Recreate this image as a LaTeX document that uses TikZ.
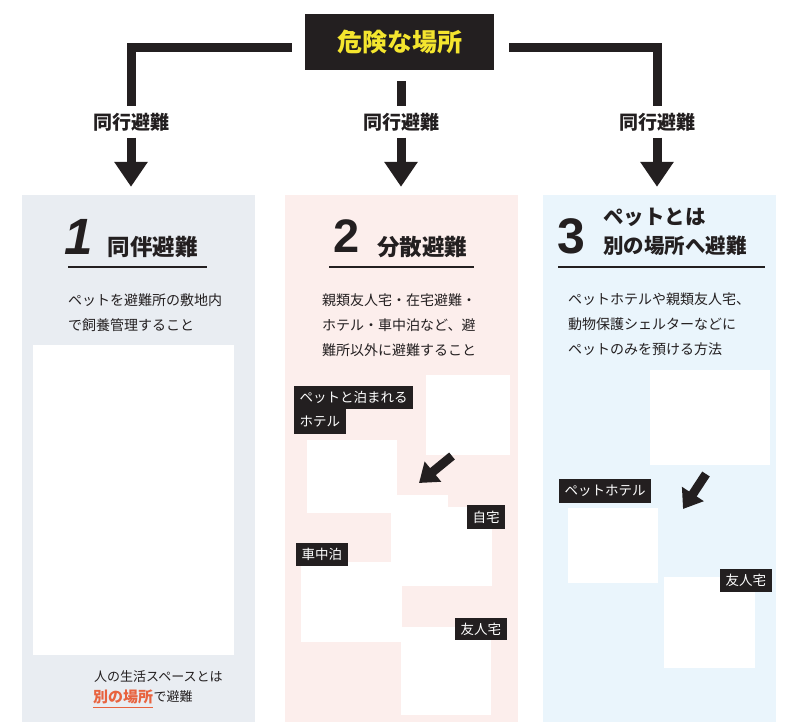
\documentclass[tikz,border=0pt]{standalone}
\usepackage{fontspec}
\setmainfont{Liberation Sans}
\newfontfamily\jp{Noto Sans CJK JP}
\usetikzlibrary{arrows.meta}

\definecolor{ink}{HTML}{231F20}
\definecolor{warn}{HTML}{F4E52E}
\definecolor{shelter}{HTML}{E9EDF2}
\definecolor{spread}{HTML}{FCEEEC}
\definecolor{apart}{HTML}{EAF5FC}
\definecolor{accent}{HTML}{E8633F}

\tikzstyle{danger}=[fill=ink, text=warn, font=\jp\bfseries\fontsize{25}{25}\selectfont, minimum width=189pt, minimum height=56pt, inner sep=0pt]
\tikzstyle{way}=[text=ink, font=\jp\bfseries\fontsize{19}{19}\selectfont, minimum height=31pt, inner sep=0pt]
\tikzstyle{bar}=[draw=ink, line width=9pt]
\tikzstyle{flow}=[bar, -{Triangle[width=32pt, length=25pt]}, shorten >=8pt]
\tikzstyle{pointer}=[draw=ink, line width=9pt, -{Triangle[width=25pt, length=18pt]}]
\tikzstyle{panel}=[minimum width=233pt, minimum height=527pt, inner sep=0pt]
\tikzstyle{photo}=[fill=white]
\tikzstyle{num}=[text=ink, font=\bfseries\fontsize{50}{50}\selectfont, inner sep=0pt]
\tikzstyle{head}=[text=ink, font=\jp\bfseries\fontsize{22.5}{22.5}\selectfont, inner sep=0pt]
\tikzstyle{body}=[text=ink, font=\jp\fontsize{14}{25}\selectfont, align=left, anchor=north west, inner sep=0pt]
\tikzstyle{rule}=[draw=ink, line width=2pt]
\tikzstyle{tag}=[fill=ink, text=white, font=\jp\fontsize{13.5}{13.5}\selectfont, inner xsep=5.5pt, inner ysep=0pt, minimum height=23pt, anchor=north west]

\begin{document}
\begin{tikzpicture}[x=1pt, y=-1pt]
    \useasboundingbox (0,0) rectangle (802,727);
    \node[panel, fill=shelter] (pan1) at (138.5,458.5) {};
    \node[panel, fill=spread] (pan2) at (401,458.5) {};
    \node[panel, fill=apart] (pan3) at (659.5,458.5) {};
    \node[danger] (place) at (399.5,42) {危険な場所};
    \node[way] (way1) at (131,122) {同行避難};
    \node[way] (way2) at (401,122) {同行避難};
    \node[way] (way3) at (657,122) {同行避難};
    \draw[bar] ([xshift=-13pt, yshift=-5.5pt]place.west) -| (way1.north);
    \draw[bar, shorten <=11pt] (way2.north |- place.south) -- (way2.north);
    \draw[bar] ([xshift=15pt, yshift=-5.5pt]place.east) -| (way3.north);
    \draw[flow] (way1.south) -- (way1.south |- pan1.north);
    \draw[flow] (way2.south) -- (way2.south |- pan2.north);
    \draw[flow] (way3.south) -- (way3.south |- pan3.north);

    \node[num, font=\bfseries\itshape\fontsize{51}{51}\selectfont] (one) at (79,236.5) {1};
    \node[head] (head1) at (152.5,247) {同伴避難};
    \draw[rule] (68,267) -- (207,267);
    \node[body] (text1) at (68,293.5) {ペットを避難所の敷地内\\で飼養管理すること};
    \fill[photo] (33,345) rectangle (234,655);
    \node[text=ink, font=\jp\fontsize{13}{13}\selectfont, anchor=west, inner sep=0pt] (note1) at (94,677) {人の生活スペースとは};
    \node[text=accent, font=\jp\bfseries\fontsize{15}{15}\selectfont, anchor=west, inner sep=0pt] (sep1) at (93,697) {別の場所};
    \node[text=ink, font=\jp\fontsize{13}{13}\selectfont, anchor=west, inner sep=0pt] (note2) at (sep1.east) {で避難};
    \draw[accent, line width=1.5pt] ([yshift=-3pt]sep1.south west) -- ([yshift=-3pt]sep1.south east);

    \node[num, font=\bfseries\fontsize{47}{47}\selectfont] (two) at (346.5,236.5) {2};
    \node[head] (head2) at (422,247) {分散避難};
    \draw[rule] (329,267) -- (474,267);
    \node[body] (text2) at (322,293.5) {親類友人宅・在宅避難・\\ホテル・車中泊など、避\\難所以外に避難すること};
    \fill[photo] (426,375) rectangle (510,455);
    \fill[photo] (307,440) rectangle (397,513);
    \fill[photo] (395,495) rectangle (448,507);
    \fill[photo] (391,507) rectangle (492,586);
    \fill[photo] (301,562) rectangle (402,642);
    \fill[photo] (401,627) rectangle (491,715);
    \node[tag] (hotel1) at (294,386) {ペットと泊まれる};
    \node[tag, minimum height=25pt] (hotel2) at (294,409) {ホテル};
    \node[tag, minimum height=24pt] (home) at (467,505) {自宅};
    \node[tag] (car) at (296,543) {車中泊};
    \node[tag, minimum height=22pt] (friend2) at (455,618) {友人宅};
    \coordinate (from2) at (452,456);
    \coordinate (to2) at (419,483);
    \draw[pointer] (from2) -- (to2);

    \node[num] (three) at (571,236.5) {3};
    \node[head, font=\jp\bfseries\fontsize{20.5}{20.5}\selectfont, anchor=west] (head3a) at (603,217) {ペットとは};
    \node[head, font=\jp\bfseries\fontsize{20.5}{20.5}\selectfont, anchor=west] (head3b) at (603,246) {別の場所へ避難};
    \draw[rule] (558,267) -- (765,267);
    \node[body] (text3) at (568,293) {ペットホテルや親類友人宅、\\動物保護シェルターなどに\\ペットのみを預ける方法};
    \fill[photo] (650,370) rectangle (770,465);
    \fill[photo] (568,508) rectangle (658,583);
    \fill[photo] (664,577) rectangle (755,668);
    \node[tag, minimum height=24pt] (pethotel) at (559,479) {ペットホテル};
    \node[tag] (friend3) at (720,569) {友人宅};
    \coordinate (from3) at (706,474);
    \coordinate (to3) at (683,509);
    \draw[pointer] (from3) -- (to3);
\end{tikzpicture}
\end{document}
